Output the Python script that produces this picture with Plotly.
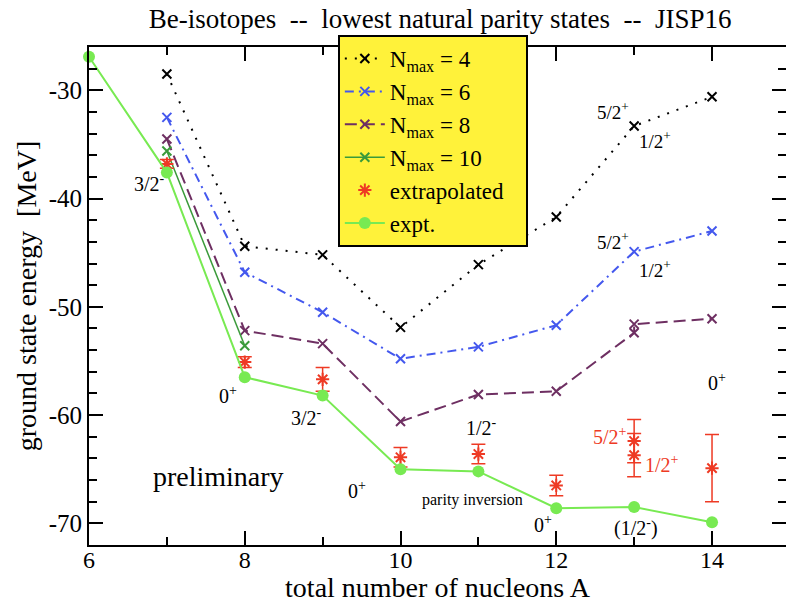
import plotly.graph_objects as go

# ---------------- data ----------------
A_nmax4 = [7, 8, 9, 10, 11, 12, 13, 14]
E_nmax4 = [-28.5, -44.4, -45.2, -51.9, -46.1, -41.7, -33.3, -30.6]

A_nmax6 = [7, 8, 9, 10, 11, 12, 13, 14]
E_nmax6 = [-32.5, -46.8, -50.5, -54.8, -53.7, -51.7, -44.9, -43.0]

A_nmax8 = [7, 8, 9, 10, 11, 12, 13, 13, 14]
E_nmax8 = [-34.5, -52.2, -53.4, -60.6, -58.1, -57.8, -52.4, -51.6, -51.1]

A_nmax10 = [7, 8]
E_nmax10 = [-35.6, -53.6]

A_extrap = [7, 8, 9, 10, 11, 12, 13, 13, 14]
E_extrap = [-36.8, -55.1, -56.7, -63.9, -63.6, -66.5, -62.4, -63.7, -64.9]
err_extrap = [0.4, 0.5, 1.1, 0.9, 0.9, 0.95, 2.0, 2.0, 3.1]

A_expt = [6, 7, 8, 9, 10, 11, 12, 13, 14]
E_expt = [-26.9, -37.6, -56.5, -58.2, -65.0, -65.2, -68.6, -68.5, -69.9]

x_ticks = [6, 8, 10, 12, 14]
y_ticks = [-30, -40, -50, -60, -70]
y_ticklabels = ["-30", "-40", "-50", "-60", "-70"]

# text labels
label_text = ["3/2<sup>-</sup>", "0<sup>+</sup>", "3/2<sup>-</sup>", "0<sup>+</sup>",
              "1/2<sup>-</sup>", "parity inversion", "0<sup>+</sup>", "(1/2<sup>-</sup>)",
              "0<sup>+</sup>", "5/2<sup>+</sup>", "1/2<sup>+</sup>", "5/2<sup>+</sup>",
              "1/2<sup>+</sup>", "5/2<sup>+</sup>", "1/2<sup>+</sup>", "preliminary"]
label_A = [6.78, 7.78, 8.79, 9.44, 11.04, 10.92, 11.83, 13.03,
           14.06, 12.69, 13.36, 12.73, 13.27, 12.73, 13.27, 7.66]
label_E = [-38.6, -58.1, -60.2, -66.9, -61.1, -67.8, -70.1, -70.4,
           -56.9, -61.9, -64.5, -43.9, -46.5, -31.9, -34.6, -65.7]
label_col = ["black"] * 9 + ["#ee3a24", "#ee3a24"] + ["black"] * 5
label_size = [20, 20, 20, 20, 20, 16, 20, 20, 20, 20, 20, 19, 19, 19, 19, 28]

FONT = "'Liberation Serif', 'Times New Roman', Times, serif"

fig = go.Figure()

fig.add_trace(go.Scatter(
    x=A_nmax4, y=E_nmax4, mode="lines+markers", name="N<sub>max</sub> = 4",
    line=dict(color="black", width=2, dash="2px,8px"),
    marker=dict(symbol="x-thin-open", size=9, line=dict(color="black", width=2))))
fig.add_trace(go.Scatter(
    x=A_nmax6, y=E_nmax6, mode="lines+markers", name="N<sub>max</sub> = 6",
    line=dict(color="#4458ee", width=2, dash="9px,5px,2px,5px"),
    marker=dict(symbol="x-thin-open", size=9, line=dict(color="#4458ee", width=2))))
fig.add_trace(go.Scatter(
    x=A_nmax8, y=E_nmax8, mode="lines+markers", name="N<sub>max</sub> = 8",
    line=dict(color="#6e2f62", width=2, dash="12px,6px"),
    marker=dict(symbol="x-thin-open", size=9, line=dict(color="#6e2f62", width=2))))
fig.add_trace(go.Scatter(
    x=A_nmax10, y=E_nmax10, mode="lines+markers", name="N<sub>max</sub> = 10",
    line=dict(color="#3a9a3a", width=1.5),
    marker=dict(symbol="x-thin-open", size=9, line=dict(color="#3a9a3a", width=2))))
fig.add_trace(go.Scatter(
    x=A_extrap, y=E_extrap, mode="markers", name="extrapolated\u00a0\u00a0\u00a0",
    marker=dict(symbol="asterisk-open", size=11, color="#ee3a24",
                line=dict(color="#ee3a24", width=2)),
    error_y=dict(type="data", array=err_extrap, color="#ee3a24", thickness=1.5, width=7)))
fig.add_trace(go.Scatter(
    x=A_expt, y=E_expt, mode="lines+markers", name="expt.",
    line=dict(color="#78ea52", width=2),
    marker=dict(symbol="circle", size=12, color="#78ea52"),
    cliponaxis=False))

for t, a, e, c, s in zip(label_text, label_A, label_E, label_col, label_size):
    fig.add_annotation(x=a, y=e, text=t, showarrow=False,
                       font=dict(family=FONT, size=s, color=c))

axis_common = dict(
    showline=True, linecolor="black", linewidth=2, mirror="ticks",
    ticks="inside", ticklen=14, tickwidth=1.5, tickcolor="black",
    showgrid=False, zeroline=False,
)

fig.update_xaxes(range=[6, 14.95], tickvals=x_ticks,
                 minor=dict(dtick=1, ticks="inside", ticklen=8, tickcolor="black", tickwidth=1.5),
                 tickfont=dict(family=FONT, size=24, color="black"),
                 title=dict(text="total number of nucleons A", font=dict(family=FONT, size=28, color="black"),
                            standoff=4),
                 ticklabelstandoff=-8,
                 automargin=False, **axis_common)
fig.update_yaxes(range=[-72, -26], tickvals=y_ticks, ticktext=y_ticklabels,
                 minor=dict(dtick=2, ticks="inside", ticklen=8, tickcolor="black", tickwidth=1.5),
                 tickfont=dict(family=FONT, size=25, color="black"),
                 title=dict(text="ground state energy\u00a0\u00a0[MeV]",
                            font=dict(family=FONT, size=28, color="black"),
                            standoff=4),
                 automargin=False, **axis_common)

fig.update_layout(
    width=786, height=603,
    margin=dict(l=89, r=0, t=47, b=58),
    paper_bgcolor="white", plot_bgcolor="white",
    title=dict(text="Be-isotopes\u00a0\u00a0--\u00a0\u00a0lowest natural parity states\u00a0\u00a0--\u00a0\u00a0JISP16",
               x=0.56, xanchor="center", y=0.97, yanchor="middle",
               font=dict(family=FONT, size=27, color="black")),
    legend=dict(x=0.357, y=1.024, xanchor="left", yanchor="top",
                bgcolor="#fff23a", bordercolor="black", borderwidth=2,
                font=dict(family=FONT, size=23, color="black"),
                tracegroupgap=0, itemwidth=40),
    showlegend=True,
)

fig.write_html("out.html")
